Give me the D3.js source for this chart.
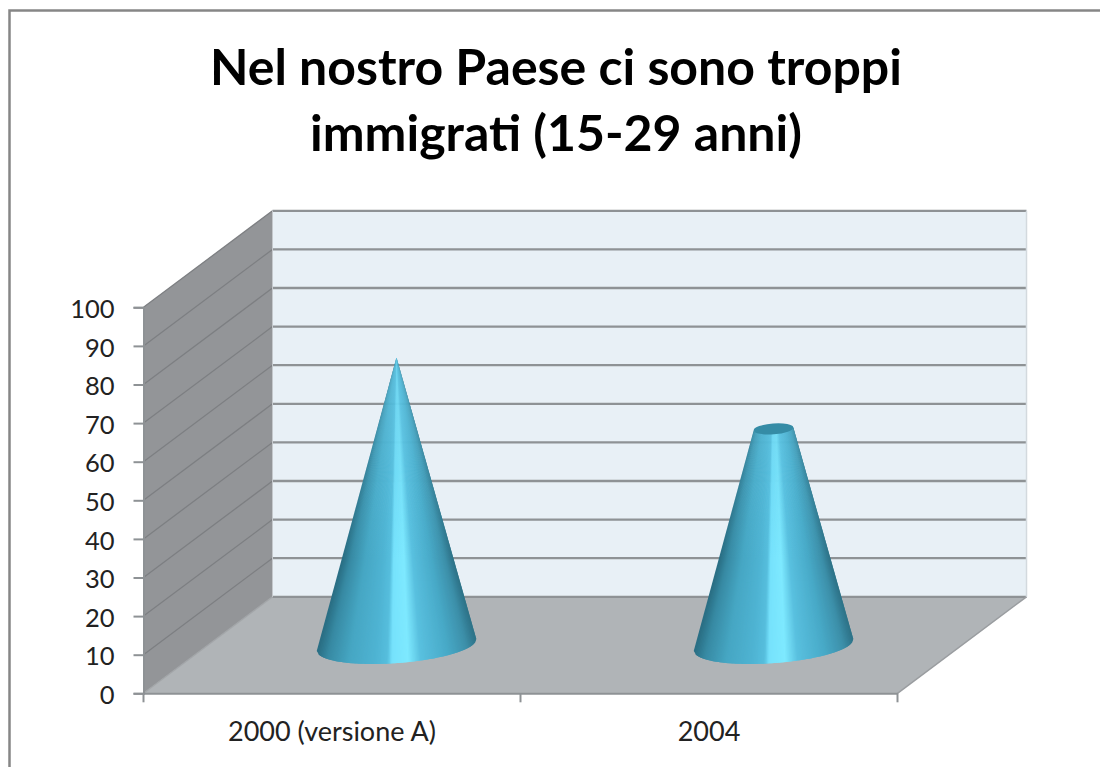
<!DOCTYPE html>
<html>
<head>
<meta charset="utf-8">
<script src="https://cdn.jsdelivr.net/npm/d3@7"></script>
<style>
html, body { margin: 0; background: #fff; }
svg { display: block; font-family: Lato, "Open Sans", sans-serif; }
</style>
</head>
<body>
<div id="forSvg"></div>
<script>
var titleLines = ["Nel nostro Paese ci sono troppi", "immigrati (15-29 anni)"];
var categories = ["2000 (versione A)", "2004"];
var values = [74.5, 56];
var yTicks = [0, 10, 20, 30, 40, 50, 60, 70, 80, 90, 100];

var width = 1100, height = 767;
var chart = d3.select("#forSvg").append("svg").attr("width", width).attr("height", height);

// front edge of the floor, the back wall sits up and to the right of it
var x = d3.scaleBand().domain(categories).range([143.5, 897.5]);
var y = d3.scaleLinear().domain([0, 100]).range([693.3, 307.3]);
var depthX = 129, depthY = -96.5;
var gridColor = "#8e9295";

// shading across the cone, -1 is the left edge and 1 the right edge
var shade = d3.scaleLinear()
	.domain([-1, -0.88, -0.62, -0.28, -0.14, -0.08, 0.12, 0.28, 0.62, 0.86, 1])
	.range(["#2a6f85", "#378aa3", "#46a6c3", "#4fb4d3", "#56bedd", "#76e2fc", "#7ee9ff", "#59c0df", "#48aac8", "#3d90aa", "#2c7085"]);

var line = d3.line();
var poly = function(pts, fill) {
	chart.append("path").attr("d", line(pts) + "Z").attr("fill", fill);
};
var stroke = function(pts, color, w) {
	chart.append("path")
		.attr("d", line(pts))
		.attr("fill", "none")
		.attr("stroke", color)
		.attr("stroke-width", w);
};

// frame, open on the right and at the bottom
chart.append("path")
	.attr("d", "M9.5," + height + "V10.5H" + width)
	.attr("fill", "none")
	.attr("stroke", "#868686")
	.attr("stroke-width", 2.5);

// title
chart.selectAll("text.title")
	.data(titleLines)
	.enter().append("text")
	.attr("class", "title")
	.attr("x", 556)
	.attr("y", function(d, i) { return 85 + i * 66; })
	.attr("text-anchor", "middle")
	.attr("font-size", 50)
	.attr("font-weight", "bold")
	.attr("fill", "#000")
	.text(function(d) { return d; });

// walls and floor
var x0 = x.range()[0], x1 = x.range()[1];
poly([[x0 + depthX, y(0) + depthY], [x1 + depthX, y(0) + depthY], [x1 + depthX, y(100) + depthY], [x0 + depthX, y(100) + depthY]], "#e8f0f6");
poly([[x0, y(0)], [x0 + depthX, y(0) + depthY], [x0 + depthX, y(100) + depthY], [x0, y(100)]], "#939598");
poly([[x0, y(0)], [x1, y(0)], [x1 + depthX, y(0) + depthY], [x0 + depthX, y(0) + depthY]], "#b0b4b7");

// gridlines, the part on the side wall is thinner and the back wall is heavier
yTicks.forEach(function(d) {
	if (d > 0) stroke([[x0, y(d)], [x0 + depthX, y(d) + depthY]], "#7d7f82", 1.3);
	stroke([[x0 + depthX, y(d) + depthY], [x1 + depthX, y(d) + depthY]], gridColor, 2.3);
});

stroke([[x0, y(0)], [x0 + depthX, y(0) + depthY]], "#a2a5a8", 1.3);
stroke([[x1, y(0)], [x1 + depthX, y(0) + depthY]], "#9a9da0", 1.5);
stroke([[x1 + depthX, y(0) + depthY], [x1 + depthX, y(100) + depthY]], "#d3d9de", 1.5);
stroke([[x0 + depthX, y(0) + depthY], [x0 + depthX, y(100) + depthY]], "#c4c8cc", 1);

// axes
var yAxis = d3.axisLeft(y).tickValues(yTicks).tickSize(10).tickPadding(19);
var gy = chart.append("g").attr("transform", "translate(" + x0 + ",0)").call(yAxis);
var xAxis = d3.axisBottom(x).tickSize(0).tickPadding(29);
var gx = chart.append("g").attr("transform", "translate(0," + y(0) + ")").call(xAxis);
gy.attr("font-family", null).attr("font-size", null);
gx.attr("font-family", null).attr("font-size", null);
gy.selectAll("text").attr("font-size", 25.5).attr("y", 2).attr("fill", "#222");
gx.selectAll("text").attr("font-size", 27).attr("fill", "#222");
gy.selectAll("line, path").attr("stroke", gridColor).attr("stroke-width", 2);
gx.selectAll("line, path").attr("stroke", gridColor).attr("stroke-width", 2);
// category boundary ticks on the x axis
gx.selectAll("line.sep")
	.data(d3.range(categories.length + 1))
	.enter().append("line")
	.attr("class", "sep")
	.attr("x1", function(i) { return x0 + i * x.step(); })
	.attr("x2", function(i) { return x0 + i * x.step(); })
	.attr("y1", 0)
	.attr("y2", 9)
	.attr("stroke", gridColor)
	.attr("stroke-width", 2);

// cones: every one is cut from the same full cone as tall as the biggest value
var baseRx = 80, baseRy = 18, tilt = -4.3 * Math.PI / 180;
var maxValue = d3.max(values);
var step = 1 / 60;
var strips = d3.range(-1, 1, step);

// the dark edges wash out towards the apex
var fade = chart.append("defs").append("linearGradient")
	.attr("id", "coneFade")
	.attr("gradientUnits", "userSpaceOnUse")
	.attr("x1", 0).attr("x2", 0)
	.attr("y1", y(maxValue) + depthY / 2)
	.attr("y2", y(0) + depthY / 2);
fade.append("stop").attr("offset", 0).attr("stop-color", "#5cc5e4").attr("stop-opacity", 0.6);
fade.append("stop").attr("offset", 0.7).attr("stop-color", "#5cc5e4").attr("stop-opacity", 0);

// point on the front half of a tilted rim, u runs from -1 to 1 across it
var rimPoint = function(cx, cy, r, u) {
	var a = r * u, b = r * baseRy / baseRx * Math.sqrt(Math.max(0, 1 - u * u));
	return [cx + a * Math.cos(tilt) - b * Math.sin(tilt), cy + a * Math.sin(tilt) + b * Math.cos(tilt)];
};

categories.forEach(function(c, i) {
	var cx = x(c) + x.bandwidth() / 2 + depthX / 2;
	var by = y(0) + depthY / 2;
	var ty = y(values[i]) + depthY / 2;
	var r = baseRx * (1 - values[i] / maxValue);

	// each strip runs under the next one so no seams show
	chart.append("g").selectAll("path")
		.data(strips)
		.enter().append("path")
		.attr("d", function(u) {
			var u2 = Math.min(1, u + 2 * step);
			return line([rimPoint(cx, by, baseRx, u), rimPoint(cx, by, baseRx, u2), rimPoint(cx, ty, r, u2), rimPoint(cx, ty, r, u)]) + "Z";
		})
		.attr("fill", function(u) { return shade(u); });

	var outline = strips.concat([1]);
	poly(outline.map(function(u) { return rimPoint(cx, by, baseRx, u); })
		.concat(outline.slice().reverse().map(function(u) { return rimPoint(cx, ty, r, u); })), "url(#coneFade)");

	if (r > 0) {
		chart.append("ellipse")
			.attr("rx", r)
			.attr("ry", r * baseRy / baseRx + 1)
			.attr("transform", "translate(" + cx + "," + ty + ") rotate(" + (tilt * 180 / Math.PI) + ")")
			.attr("fill", "#358ca6");
	}
});
</script>
</body>
</html>
